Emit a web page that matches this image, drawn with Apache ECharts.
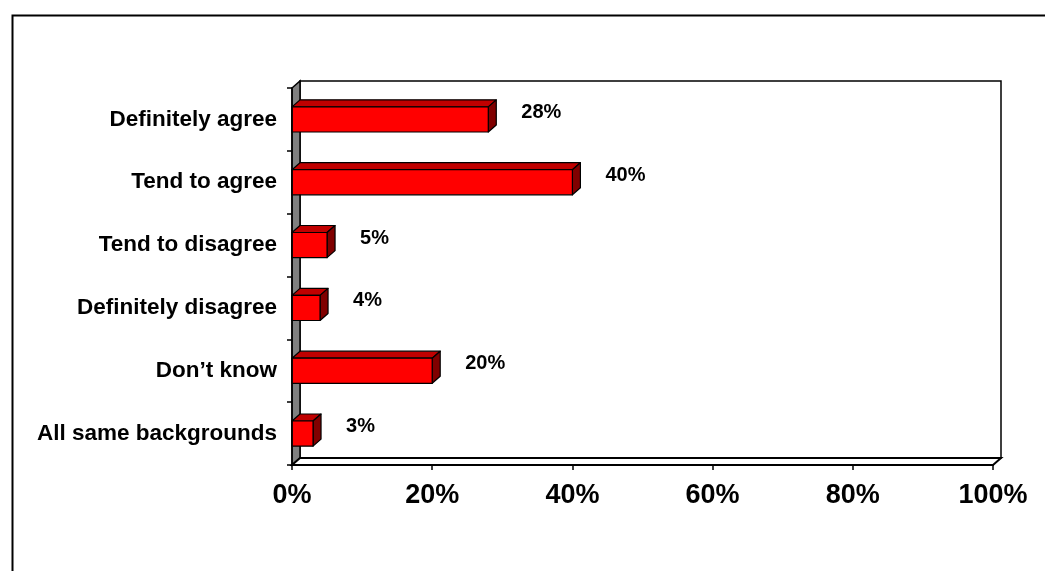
<!DOCTYPE html>
<html>
<head>
<meta charset="utf-8">
<script src="https://cdn.jsdelivr.net/npm/echarts@6/dist/echarts.min.js"></script>
<style>
  html, body { margin: 0; padding: 0; background: #ffffff; }
  #chart { width: 1045px; height: 571px; }
</style>
</head>
<body>
<div id="chart"></div>
<script>
// Survey answers, top to bottom
const categories = [
  'Definitely agree',
  'Tend to agree',
  'Tend to disagree',
  'Definitely disagree',
  'Don\u2019t know',
  'All same backgrounds'
];
// Share of respondents (%)
const values = [28, 40, 5, 4, 20, 3];
// Value axis ticks
const axisMin = 0;
const axisMax = 100;
const axisStep = 20;

const FONT = 'Arial, "Liberation Sans", sans-serif';
// Oblique depth of the pseudo-3D frame and bars
const DX = 8;
const DY = -7;

const chart = echarts.init(document.getElementById('chart'), null, { renderer: 'canvas' });

// Side wall, back wall and floor of the 3D frame, sized from the grid
function renderFrame(params, api) {
  const cs = params.coordSys;
  const x0 = cs.x, y0 = cs.y, x1 = cs.x + cs.width, y1 = cs.y + cs.height;
  const stroke = { stroke: '#000', lineWidth: 1.5 };
  return {
    type: 'group',
    children: [
      { // back wall
        type: 'rect',
        shape: { x: x0 + DX, y: y0 + DY, width: cs.width, height: cs.height },
        style: Object.assign({ fill: '#ffffff' }, stroke)
      },
      { // left side wall
        type: 'polygon',
        shape: { points: [[x0, y0], [x0 + DX, y0 + DY], [x0 + DX, y1 + DY], [x0, y1]] },
        style: Object.assign({ fill: '#808080' }, stroke)
      },
      { // floor
        type: 'polygon',
        shape: { points: [[x0, y1], [x0 + DX, y1 + DY], [x1 + DX, y1 + DY], [x1, y1]] },
        style: { fill: '#ffffff', stroke: '#000', lineWidth: 2 }
      }
    ]
  };
}

// One 3D bar: front, top and side faces plus its value label
function renderBar(params, api) {
  const idx = api.value(1);
  const val = api.value(0);
  const start = api.coord([axisMin, idx]);
  const end = api.coord([val, idx]);
  const band = api.size([0, 1])[1];
  const h = band * 0.40;
  const xa = start[0], xb = end[0];
  const yt = end[1] - h / 2, yb = end[1] + h / 2;
  const edge = { stroke: '#000', lineWidth: 1.2, lineJoin: 'round' };
  return {
    type: 'group',
    children: [
      {
        type: 'polygon',
        shape: { points: [[xa, yt], [xa + DX, yt + DY], [xb + DX, yt + DY], [xb, yt]] },
        style: Object.assign({ fill: '#c00000' }, edge)
      },
      {
        type: 'polygon',
        shape: { points: [[xb, yt], [xb + DX, yt + DY], [xb + DX, yb + DY], [xb, yb]] },
        style: Object.assign({ fill: '#800000' }, edge)
      },
      {
        type: 'rect',
        shape: { x: xa, y: yt, width: xb - xa, height: h },
        style: Object.assign({ fill: '#ff0000' }, edge)
      },
      {
        type: 'text',
        x: xb + 33,
        y: end[1] - 7,
        style: {
          text: val + '%',
          fill: '#000',
          font: 'bold 20px ' + FONT,
          align: 'left',
          verticalAlign: 'middle'
        }
      }
    ]
  };
}

chart.setOption({
  animation: false,
  backgroundColor: '#ffffff',
  graphic: [
    { // outer chart border
      type: 'rect',
      left: 10, top: 13,
      shape: { width: 1200, height: 700 },
      style: { fill: 'none', stroke: '#000', lineWidth: 2 },
      z: 0
    }
  ],
  grid: { left: 292, top: 88, width: 701, height: 377, containLabel: false },
  xAxis: {
    type: 'value',
    min: axisMin,
    max: axisMax,
    interval: axisStep,
    z: 5,
    axisLine: { show: true, lineStyle: { color: '#000', width: 2 } },
    axisTick: { show: true, length: 5, lineStyle: { color: '#000', width: 1.5 } },
    splitLine: { show: false },
    axisLabel: {
      formatter: '{value}%',
      color: '#000',
      fontFamily: FONT,
      fontWeight: 'bold',
      fontSize: 27,
      margin: 17
    }
  },
  yAxis: {
    type: 'category',
    data: categories,
    inverse: true,
    z: 5,
    axisLine: { show: true, lineStyle: { color: '#000', width: 1.5 } },
    axisTick: { show: true, length: 5, lineStyle: { color: '#000', width: 1.5 } },
    splitLine: { show: false },
    axisLabel: {
      color: '#000',
      fontFamily: FONT,
      fontWeight: 'bold',
      fontSize: 22.5,
      margin: 15
    }
  },
  series: [
    {
      type: 'custom',
      z: 1,
      silent: true,
      renderItem: renderFrame,
      data: [[0, 0]]
    },
    {
      type: 'custom',
      z: 3,
      renderItem: renderBar,
      encode: { x: 0, y: 1 },
      data: values.map((v, i) => [v, i])
    }
  ]
});
</script>
</body>
</html>
